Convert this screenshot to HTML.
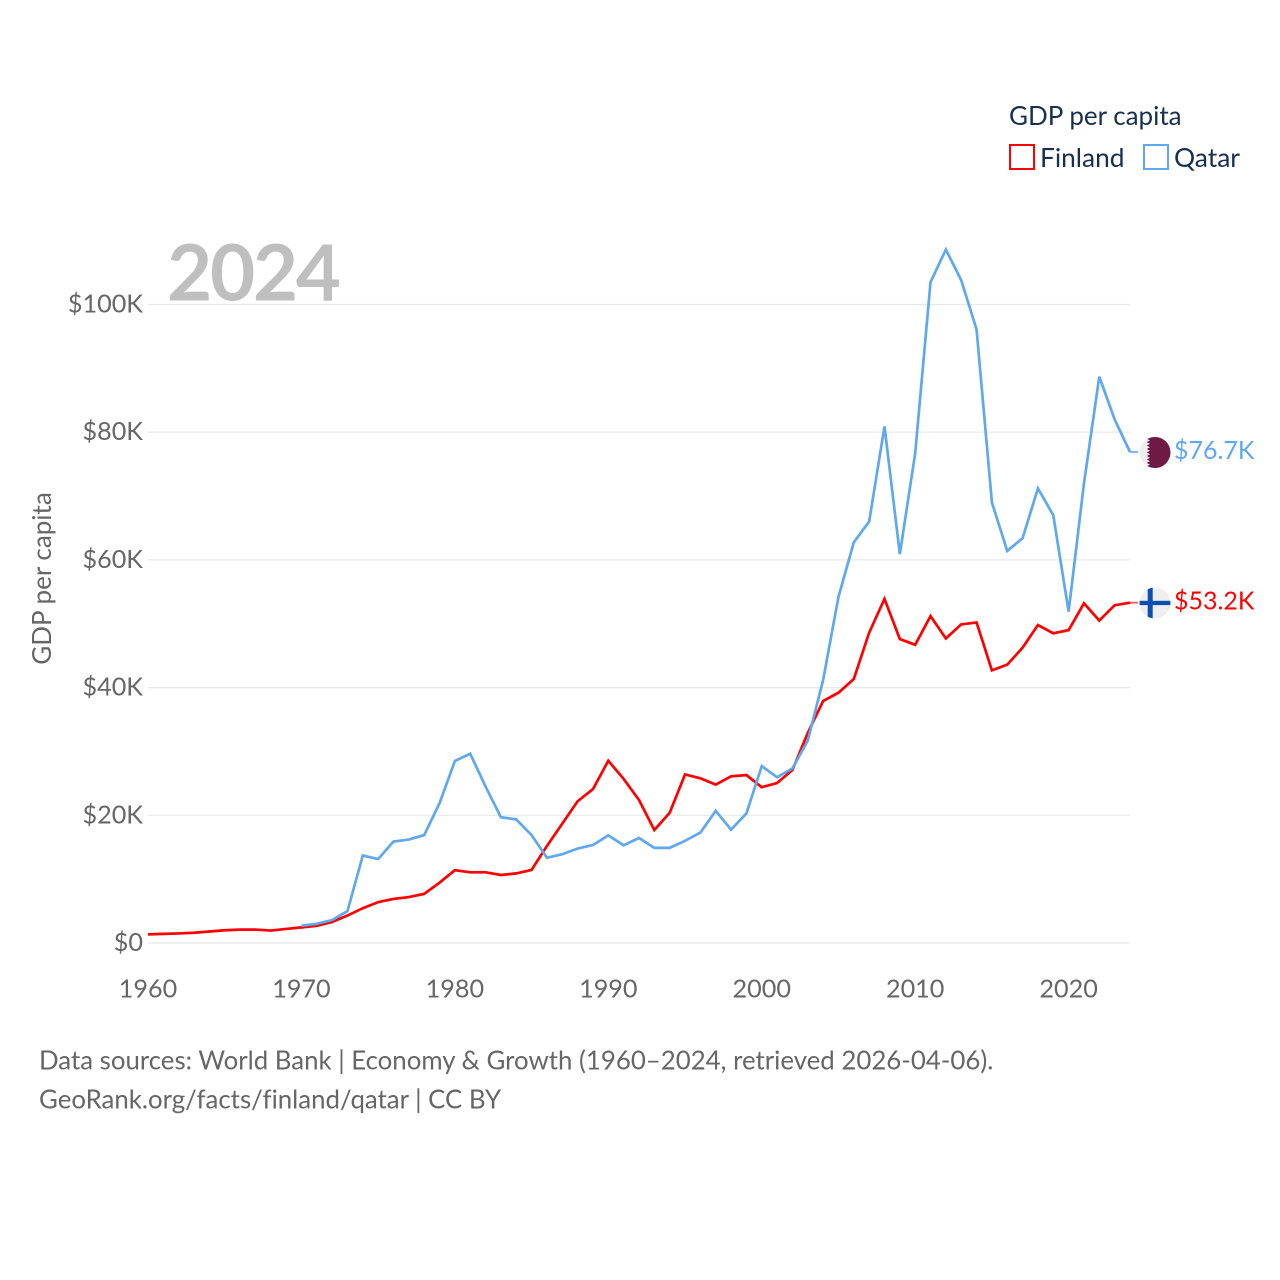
<!DOCTYPE html>
<html lang="en">
<head>
<meta charset="utf-8">
<title>GDP per capita: Finland and Qatar</title>
<style>
html,body{margin:0;padding:0;background:#fff;}
#chart{display:block;width:1280px;height:1280px;font-family:"Lato","Carlito","Liberation Sans",sans-serif;font-variant-ligatures:none;}
</style>
</head>
<body>
<svg id="chart" xmlns="http://www.w3.org/2000/svg" width="1280" height="1280" viewBox="0 0 1280 1280">
  <rect x="0" y="0" width="1280" height="1280" fill="#ffffff"/>
  <g id="grid"></g>
  <g id="yticks"></g>
  <g id="xticks"></g>
  <text x="167" y="300.500" font-size="78" font-weight="700" letter-spacing="-2.300" fill="#bfbfbf">2024</text>
  <text transform="translate(51,578.500) rotate(-90)" text-anchor="middle" font-size="26" fill="#666666">GDP per capita</text>
  <g id="series"></g>
  <g id="flags">
    <defs>
      <clipPath id="qatar-clip"><circle cx="1155" cy="452.500" r="15.500"/></clipPath>
      <clipPath id="finland-clip"><circle cx="1155" cy="603" r="15.500"/></clipPath>
    </defs>
    <g clip-path="url(#qatar-clip)">
      <rect x="1139" y="436" width="32" height="33" fill="#eeeeee"/>
      <polygon fill="#6f1a45" points="1171,436 1150,436 1146.700,438.700 1150,440.400 1146.700,442.100 1150,443.900 1146.700,445.600 1150,447.300 1146.700,449 1150,450.800 1146.700,452.500 1150,454.200 1146.700,456 1150,457.700 1146.700,459.400 1150,461.100 1146.700,462.900 1150,464.600 1146.700,466.300 1150,469 1171,469"/>
    </g>
    <g clip-path="url(#finland-clip)">
      <rect x="1139" y="587" width="32" height="32" fill="#eeeeee"/>
      <rect x="1147.700" y="587" width="5" height="32" fill="#0a50b0"/>
      <rect x="1139" y="600.800" width="32" height="4.300" fill="#0a50b0"/>
    </g>
  </g>
  <text x="1174" y="459" font-size="25" fill="#5fa8ee">$76.7K</text>
  <text x="1174" y="609.500" font-size="25" fill="#ff0000">$53.2K</text>

  <g>
    <text x="1009" y="125" font-size="26" fill="#18304f">GDP per capita</text>
    <rect x="1010" y="145" width="24" height="24" fill="#ffffff" stroke="#ff0000" stroke-width="2"/>
    <text x="1040" y="167" font-size="26.300" fill="#18304f">Finland</text>
    <rect x="1144" y="145" width="24" height="24" fill="#ffffff" stroke="#5fa8ee" stroke-width="2"/>
    <text x="1174" y="167" font-size="26.400" fill="#18304f">Qatar</text>
  </g>

  <text x="39" y="1069.500" font-size="25.820" fill="#666666">Data sources: World Bank | Economy &amp; Growth (1960–2024, retrieved 2026-04-06).</text>
  <text x="39" y="1108.500" font-size="25.820" fill="#666666">GeoRank.org/facts/finland/qatar | CC BY</text>
</svg>
<script>
const startYear = 1960;
const endYear = 2024;
const qatarStartYear = 1970;
const xTickYears = [1960, 1970, 1980, 1990, 2000, 2010, 2020];
const yTickValues = [0, 20, 40, 60, 80, 100];
const yTickLabels = ['$0', '$20K', '$40K', '$60K', '$80K', '$100K'];
const finlandValues = [1.35, 1.43, 1.5, 1.6, 1.8, 2.0, 2.1, 2.1, 1.95, 2.2, 2.45, 2.7, 3.3, 4.3, 5.45, 6.4, 6.9, 7.2, 7.7, 9.45, 11.4, 11.07, 11.07, 10.65, 10.9, 11.45, 15.2, 18.7, 22.2, 24.1, 28.55, 25.7, 22.4, 17.7, 20.4, 26.4, 25.8, 24.8, 26.1, 26.3, 24.4, 25.05, 27.1, 32.9, 37.9, 39.2, 41.35, 48.6, 53.9, 47.6, 46.7, 51.2, 47.7, 49.9, 50.2, 42.7, 43.6, 46.25, 49.8, 48.5, 49, 53.2, 50.5, 52.9, 53.3];
const qatarValues = [2.7, 3.0, 3.6, 5.0, 13.7, 13.15, 15.9, 16.2, 16.9, 21.9, 28.5, 29.65, 24.5, 19.7, 19.35, 16.9, 13.35, 13.9, 14.8, 15.35, 16.85, 15.3, 16.45, 14.9, 14.9, 16, 17.3, 20.7, 17.75, 20.3, 27.7, 25.95, 27.35, 31.7, 41.2, 54.2, 62.75, 66, 80.9, 60.9, 76.7, 103.5, 108.6, 103.8, 96.1, 69, 61.4, 63.4, 71.2, 67, 51.9, 72, 88.7, 82, 76.9];

const SVG_NS = 'http://www.w3.org/2000/svg';
function xScale(year) { return 148 + (year - startYear) * (1130 - 148) / (endYear - startYear); }
function yScale(value) { return 943 - value * 6.385; }
function pathFor(values, firstYear) {
  return values.map(function (v, i) {
    return (i ? 'L' : 'M') + xScale(firstYear + i).toFixed(2) + ' ' + yScale(v).toFixed(2);
  }).join(' ');
}

const gridGroup = document.getElementById('grid');
const yTickGroup = document.getElementById('yticks');
yTickValues.forEach(function (value, i) {
  const line = document.createElementNS(SVG_NS, 'line');
  
  
  line.setAttribute('x1', xScale(startYear));
  line.setAttribute('x2', xScale(endYear));
  line.setAttribute('y1', yScale(value));
  line.setAttribute('y2', yScale(value));
  line.setAttribute('stroke', '#e8e8e8');
  line.setAttribute('stroke-width', '1.2');
  gridGroup.appendChild(line);

  const label = document.createElementNS(SVG_NS, 'text');
  
  
  label.setAttribute('x', 143);
  label.setAttribute('y', yScale(value) + 8);
  label.setAttribute('text-anchor', 'end');
  label.setAttribute('font-size', '25.2');
  label.setAttribute('fill', '#666666');
  label.textContent = yTickLabels[i];
  yTickGroup.appendChild(label);
});

const xTickGroup = document.getElementById('xticks');
xTickYears.forEach(function (year) {
  const label = document.createElementNS(SVG_NS, 'text');
  
  
  label.setAttribute('x', xScale(year));
  label.setAttribute('y', 997.5);
  label.setAttribute('text-anchor', 'middle');
  label.setAttribute('font-size', '25.2');
  label.setAttribute('fill', '#666666');
  label.textContent = String(year);
  xTickGroup.appendChild(label);
});

const seriesGroup = document.getElementById('series');

const finlandLine = document.createElementNS(SVG_NS, 'path');


finlandLine.setAttribute('d', pathFor(finlandValues, startYear));
finlandLine.setAttribute('fill', 'none');
finlandLine.setAttribute('stroke', '#ff0000');
finlandLine.setAttribute('stroke-width', '2.7');
finlandLine.setAttribute('stroke-linejoin', 'miter');
seriesGroup.appendChild(finlandLine);

const qatarLine = document.createElementNS(SVG_NS, 'path');


qatarLine.setAttribute('d', pathFor(qatarValues, qatarStartYear));
qatarLine.setAttribute('fill', 'none');
qatarLine.setAttribute('stroke', '#5fa8ee');
qatarLine.setAttribute('stroke-width', '2.7');
qatarLine.setAttribute('stroke-linejoin', 'miter');
seriesGroup.appendChild(qatarLine);

const finlandConnector = document.createElementNS(SVG_NS, 'line');


finlandConnector.setAttribute('x1', xScale(endYear));
finlandConnector.setAttribute('x2', 1138);
finlandConnector.setAttribute('y1', yScale(finlandValues[finlandValues.length - 1]));
finlandConnector.setAttribute('y2', yScale(finlandValues[finlandValues.length - 1]));
finlandConnector.setAttribute('stroke', '#ff0000');
finlandConnector.setAttribute('stroke-opacity', '0.6');
finlandConnector.setAttribute('stroke-width', '2');
seriesGroup.appendChild(finlandConnector);

const qatarConnector = document.createElementNS(SVG_NS, 'line');


qatarConnector.setAttribute('x1', xScale(endYear));
qatarConnector.setAttribute('x2', 1138);
qatarConnector.setAttribute('y1', yScale(qatarValues[qatarValues.length - 1]));
qatarConnector.setAttribute('y2', yScale(qatarValues[qatarValues.length - 1]));
qatarConnector.setAttribute('stroke', '#5fa8ee');
qatarConnector.setAttribute('stroke-opacity', '0.8');
qatarConnector.setAttribute('stroke-width', '2');
seriesGroup.appendChild(qatarConnector);
</script>
</body>
</html>
